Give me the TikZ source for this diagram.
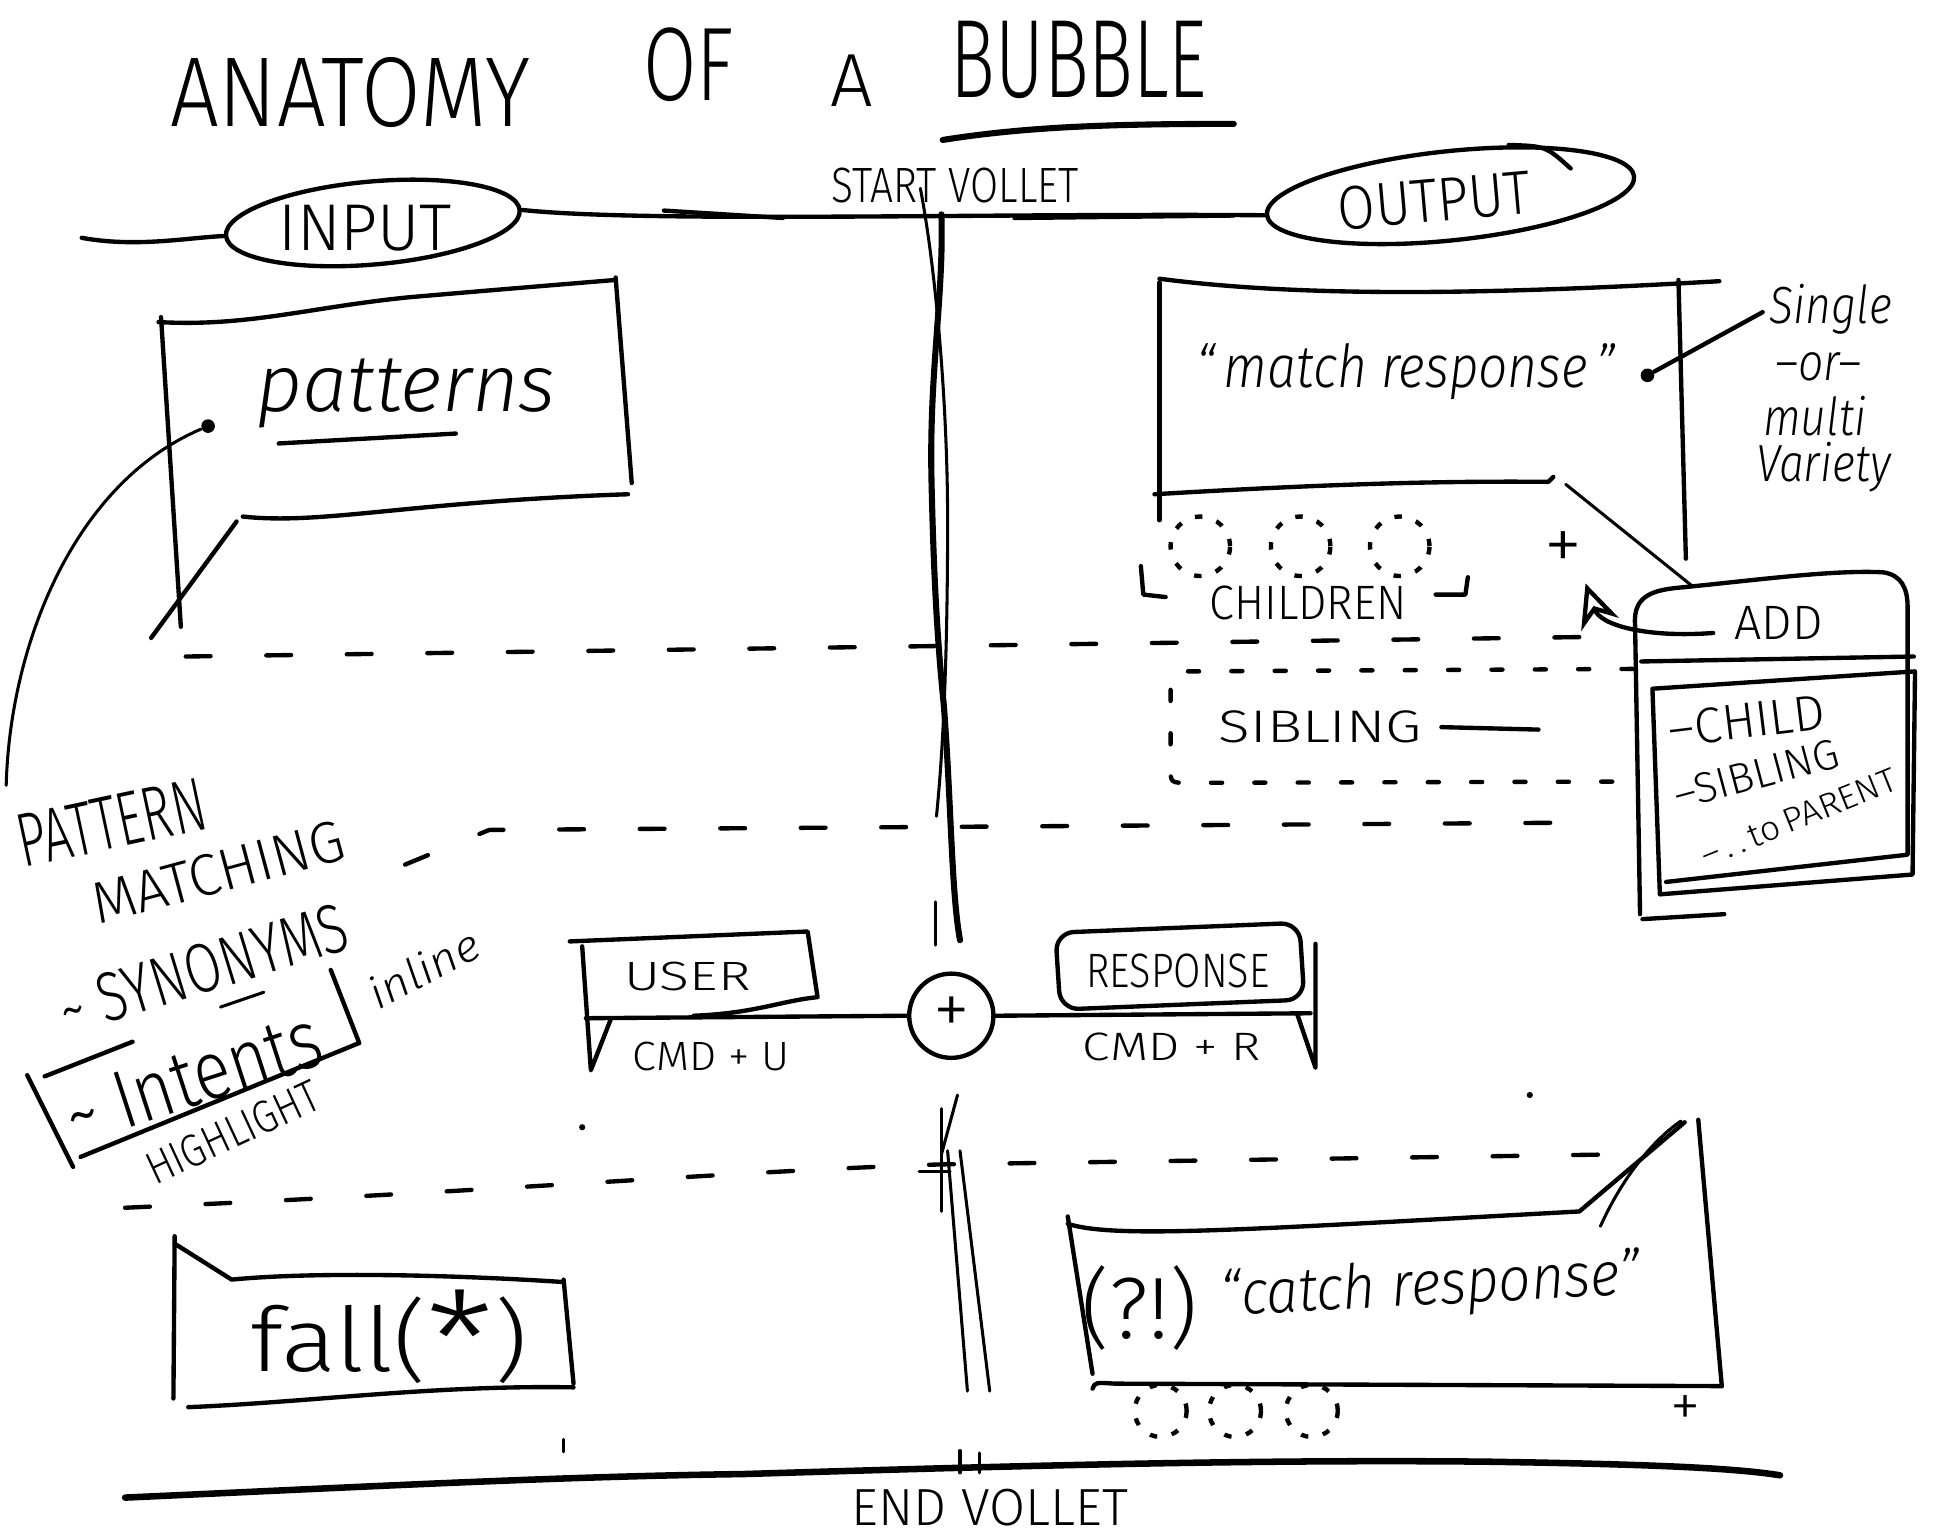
\documentclass[tikz,border=0pt]{standalone}
\usepackage{fontspec}
\usepackage{graphicx}
\setmainfont{Fira Sans}[UprightFont=* Light, ItalicFont=* Light Italic]
\usetikzlibrary{arrows.meta,shapes.geometric}
\newcommand{\fsz}[1]{\fontsize{#1}{#1}\selectfont}
\newcommand{\hx}[2]{\scalebox{#1}[1]{#2}}

\begin{document}
\begin{tikzpicture}[x=0.1mm,y=-0.1mm,
  pen/.style={line width=1pt,line cap=round,line join=round},
  fine/.style={line width=0.7pt,line cap=round},
  dashline/.style={pen,dash pattern=on 2mm off 4.5mm},
  dotline/.style={pen,dash pattern=on 0.9mm off 2.6mm},
  dotring/.style={circle,draw,line width=1pt,dash pattern=on 0.6mm off 1.2mm,inner sep=0pt},
  lbl/.style={inner sep=0pt},
  bubble/.style={ellipse,draw,pen,inner sep=0pt},
  blob/.style={circle,fill,inner sep=0pt,minimum size=1.1mm}]
  \useasboundingbox (0,0) rectangle (1571,1240);

  % title
  \node[lbl,font=\fsz{22.8}] (ttl1) at (283,75) {\hx{0.87}{ANATOMY}};
  \node[lbl,font=\fsz{24}] (ttl2) at (556,52) {\hx{0.74}{OF}};
  \node[lbl,font=\fsz{17.3}] (ttl3) at (688,65) {A};
  \node[lbl,font=\fsz{25.6}] (ttl4) at (871,48) {\hx{0.67}{BUBBLE}};
  \draw[pen,line width=1.4pt] (761,113) .. controls (830,102) and (900,100) .. (996,100);

  % start line
  \node[bubble,minimum width=23.8mm,minimum height=6.7mm,rotate=5] (input) at (301,180) {};
  \node[lbl,font=\fsz{15.2}] (inlbl) at (295,184) {\hx{0.98}{INPUT}};
  \node[bubble,minimum width=29.8mm,minimum height=7.2mm,rotate=6] (output) at (1171,158) {};
  \node[lbl,font=\fsz{14.2},rotate=5] (outlbl) at (1158,162) {\hx{0.88}{OUTPUT}};
  \node[lbl,font=\fsz{11.4}] (start) at (771,150) {\hx{0.82}{START VOLLET}};
  \coordinate (lstart) at (66,192);
  \draw[pen] (lstart) .. controls (110,200) and (150,192) .. (input.west);
  \draw[pen] (input.east) .. controls (520,180) and (800,172) .. (output.west);
  \draw[pen] (536,170) -- (632,176);
  \draw[pen] (819,176) -- (996,174);
  \draw[pen] (1218,117) .. controls (1248,118) .. (1268,136);

  % centre line
  \draw[pen,line width=1.4pt] (760,173) .. controls (762,240) and (750,300) .. (752,388)
    .. controls (754,480) and (758,530) .. (762,570) .. controls (768,650) and (768,720) .. (775,759);
  \draw[fine] (743,152) .. controls (756,220) and (765,330) .. (765,420)
    .. controls (765,520) and (762,600) .. (756,659);
  \draw[fine] (755,728) -- (755,763);
  \draw[fine] (760,895) -- (760,978);
  \draw[fine] (773,884) -- (760,932);
  \draw[fine] (742,946) -- (767,946);
  \draw[fine] (765,929) -- (781,1123);
  \draw[fine] (775,929) -- (799,1123);
  \draw[fine] (775,1171) -- (775,1189);
  \draw[fine] (791,1173) -- (791,1189);

  % patterns bubble
  \draw[pen] (130,256) -- (146,506);
  \draw[pen] (128,260) .. controls (200,264) and (250,248) .. (330,240) .. controls (400,234) .. (497,226);
  \draw[pen] (497,224) -- (510,390);
  \draw[pen] (196,417) .. controls (260,424) and (330,405) .. (507,399);
  \draw[pen] (191,421) -- (122,515);
  \node[lbl,font=\itshape\fsz{18.5}] (patt) at (328,318) {patterns};
  \draw[pen] (225,358) -- (368,350);
  \node[blob] (pdot) at (168,344) {};
  \coordinate (pend) at (5,634);
  \draw[fine] (pdot) .. controls (60,390) and (8,520) .. (pend);

  % row dividers
  \draw[dashline] (150,530) -- (1297,514);
  \draw[dashline] (327,698) -- (395,670) -- (1288,664);
  \draw[dashline] (101,975) .. controls (400,962) and (600,945) .. (760,940) -- (1300,932);
  \fill (470,910) circle (2.5);
  \fill (1235,884) circle (2.5);
  \draw[fine] (455,1162) -- (455,1172);

  % match response bubble
  \draw[pen] (936,225) .. controls (1050,240) and (1200,238) .. (1388,227);
  \draw[pen] (936,228) -- (936,420);
  \draw[pen] (1355,226) -- (1361,451);
  \draw[pen] (932,399) .. controls (1050,392) and (1150,388) .. (1250,389) -- (1254,385);
  \node[lbl,font=\itshape\fsz{13.6}] (match) at (1135,300) {\hx{0.87}{“\,match response\,”}};
  \node[blob] (mdot) at (1330,303) {};
  \coordinate (mend) at (1423,252);
  \draw[pen] (mdot) -- (mend);
  \node[lbl,font=\itshape\fsz{12}] (sv1) at (1478,250) {\hx{0.85}{Single}};
  \node[lbl,font=\itshape\fsz{12}] (sv2) at (1468,296) {\hx{0.85}{–or–}};
  \node[lbl,font=\itshape\fsz{12}] (sv3) at (1465,336) {\hx{0.85}{multi}};
  \node[lbl,font=\itshape\fsz{12}] (sv4) at (1472,377) {\hx{0.85}{Variety}};

  % children
  \foreach \cx [count=\i] in {969,1050,1130}
    \node[dotring,minimum size=4.8mm] (kid\i) at (\cx,441) {};
  \draw[pen] (921,457) -- (923,480) -- (941,482);
  \draw[pen] (1159,480) -- (1183,480) -- (1185,466);
  \node[lbl,font=\fsz{11.1}] (kids) at (1056,487) {\hx{0.93}{CHILDREN}};
  \node[lbl,font=\fsz{17.6}] (kplus) at (1262,445) {+};

  % add card
  \coordinate (mcorner) at (1264,391);
  \draw[fine] (mcorner) -- (1366,473);
  \draw[pen] (1324,738) -- (1320,505) .. controls (1318,480) and (1335,476) .. (1360,474)
    .. controls (1420,468) and (1480,460) .. (1520,462) .. controls (1535,464) and (1540,475) .. (1540,490)
    -- (1540,690) -- (1345,712);
  \draw[pen] (1325,534) -- (1545,530);
  \draw[pen] (1334,556) -- (1546,542) -- (1544,706) -- (1340,722) -- cycle;
  \draw[pen] (1326,742) -- (1392,738);
  \node[lbl,font=\fsz{11.1}] (addlbl) at (1436,503) {ADD};
  \node[lbl,font=\fsz{11.5},rotate=7] (addkid) at (1410,582) {–CHILD};
  \node[lbl,font=\fsz{9.8},rotate=15] (addsib) at (1418,625) {–SIBLING};
  \node[lbl,font=\fsz{7.8},rotate=22] (addpar) at (1452,660) {\hx{1.05}{–\,.\,.\,to\,PARENT}};
  \coordinate (atip) at (1280,471);
  \draw[pen,-{Stealth[open,length=3.5mm,width=3.2mm]}] (1383,511) .. controls (1330,515) and (1292,505) .. (atip);

  % sibling
  \draw[dotline] (1318,540) -- (960,542) .. controls (945,542) .. (945,556) -- (945,620)
    .. controls (945,632) .. (960,632) -- (1306,631);
  \node[lbl,font=\fsz{10.5}] (sib) at (1066,587) {\hx{1.28}{SIBLING}};
  \coordinate (sibend) at (1242,589);
  \draw[pen] ([xshift=1.5mm]sib.east) -- (sibend);

  % left notes
  \node[lbl,font=\fsz{17.5},rotate=12] (pm1) at (90,664) {\hx{0.66}{PATTERN}};
  \node[lbl,font=\fsz{13.5},rotate=15] (pm2) at (176,704) {\hx{0.97}{MATCHING}};
  \node[lbl,font=\fsz{16},rotate=17] (syn) at (164,782) {\hx{0.76}{\textasciitilde\ SYNONYMS}};
  \draw[fine] (178,813) -- (213,801);
  \node[lbl,font=\fsz{19},rotate=18] (intent) at (156,870) {\hx{0.83}{\textasciitilde\ Intents}};
  \draw[pen] (22,868) -- (59,942);
  \draw[pen] (36,869) -- (107,841);
  \draw[pen] (65,934) -- (290,842);
  \draw[pen] (267,783) -- (290,842);
  \node[lbl,font=\itshape\fsz{10},rotate=28] (inl) at (342,782) {\hx{1.1}{inline}};
  \node[lbl,font=\fsz{10.5},rotate=25] (hil) at (188,914) {\hx{0.85}{HIGHLIGHT}};

  % user + response
  \draw[pen] (460,760) -- (652,752) -- (660,805) .. controls (630,808) and (610,818) .. (560,820);
  \draw[pen] (470,764) -- (477,864) -- (493,823);
  \node[circle,draw,pen,minimum size=6.8mm,inner sep=0pt,font=\fsz{17}] (join) at (768,820) {+};
  \coordinate (ustart) at (473,822);
  \coordinate (rend) at (1058,818);
  \draw[pen] (ustart) -- (join.west);
  \draw[pen] (join.east) -- (rend);
  \node[lbl,font=\fsz{9.4}] (user) at (555,788) {\hx{1.35}{USER}};
  \node[lbl,font=\fsz{9.4}] (cmdu) at (574,853) {\hx{1.05}{CMD + U}};
  \draw[pen,rounded corners=1.5mm] (852,753) -- (1049,745) -- (1053,807) -- (856,815) -- cycle;
  \draw[pen] (1062,762) -- (1062,862) -- (1047,818);
  \node[lbl,font=\fsz{11.1}] (resp) at (951,784) {\hx{0.82}{RESPONSE}};
  \node[lbl,font=\fsz{9.1}] (cmdr) at (946,845) {\hx{1.25}{CMD + R}};

  % fall bubble
  \draw[pen] (141,998) -- (140,1129);
  \draw[pen] (141,1004) -- (187,1033) .. controls (260,1026) and (380,1030) .. (455,1035);
  \draw[pen] (455,1033) -- (463,1117);
  \draw[pen] (152,1136) .. controls (250,1132) and (350,1118) .. (463,1120);
  \node[lbl,font=\fsz{20.5}] (fall) at (314,1081) {\hx{1.15}{fall(\raisebox{-0.35ex}{\scalebox{1.5}{*}})}};

  % catch bubble
  \draw[pen] (862,982) -- (882,1109);
  \draw[pen] (862,988) .. controls (900,1000) and (1000,993) .. (1275,978) -- (1360,906);
  \draw[fine] (1292,990) .. controls (1310,950) and (1335,920) .. (1357,905);
  \draw[pen] (1371,904) -- (1390,1119);
  \draw[pen] (882,1121) .. controls (884,1116) .. (900,1117) -- (1390,1119);
  \node[lbl,font=\fsz{20}] (bang) at (920,1056) {(?!)};
  \node[lbl,font=\itshape\fsz{14.2},rotate=3] (catch) at (1155,1040) {\hx{0.92}{“catch response”}};
  \foreach \cx [count=\i] in {937,997,1059}
    \node[dotring,minimum size=4.2mm] (ck\i) at (\cx,1139) {};
  \node[lbl,font=\fsz{14}] (cplus) at (1361,1139) {+};

  % end line
  \draw[pen,line width=1.5pt] (101,1209) .. controls (300,1200) and (450,1192) .. (600,1190)
    .. controls (800,1184) and (1000,1178) .. (1200,1180) .. controls (1330,1182) and (1400,1185) .. (1437,1191);
  \node[lbl,font=\fsz{12}] (endv) at (799,1217) {END VOLLET};
\end{tikzpicture}
\end{document}
